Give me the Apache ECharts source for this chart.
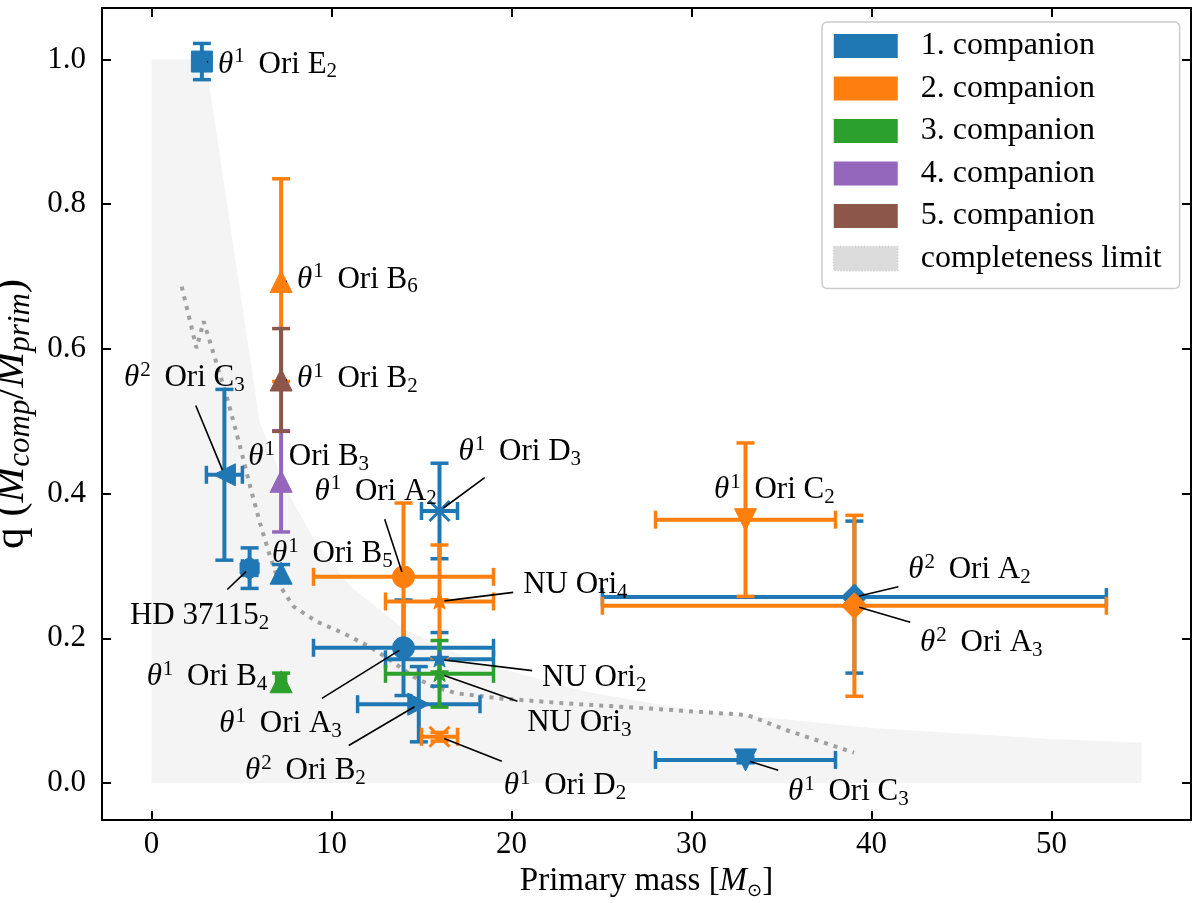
<!DOCTYPE html>
<html><head><meta charset="utf-8">
<script src="https://cdn.jsdelivr.net/npm/echarts@6/dist/echarts.min.js"></script>
<style>html,body{margin:0;padding:0;background:#fff}#c{width:1200px;height:903px}</style>
</head><body><div id="c"></div>
<script>
// ---------------- data ----------------
const labels = ['θ^1 Ori E_2','θ^1 Ori B_6','θ^1 Ori B_2','θ^1 Ori B_3','θ^1 Ori B_5','θ^1 Ori B_4','θ^2 Ori C_3','HD 37115_2','θ^1 Ori A_2','θ^1 Ori A_3','θ^1 Ori D_3','θ^1 Ori D_2','NU Ori_4','NU Ori_2','NU Ori_3','θ^2 Ori B_2','θ^1 Ori C_2','θ^1 Ori C_3','θ^2 Ori A_2','θ^2 Ori A_3'];
const companion   = [1,2,5,4,1,3,1,1,2,1,1,2,2,1,3,1,2,1,1,2];
const primaryMass = [2.8,7.2,7.2,7.2,7.2,7.2,4.05,5.45,14.0,14.0,16.0,16.0,16.0,16.0,16.0,14.85,33.0,33.0,39.05,39.05];
const massErr     = [0,0,0,0,0,0.25,1.0,0.4,5.0,5.0,1.0,1.0,3.0,3.0,3.0,3.4,5.0,5.0,14.0,14.0];
const q           = [0.997,0.693,0.557,0.417,0.290,0.140,0.426,0.297,0.285,0.187,0.376,0.064,0.251,0.171,0.151,0.109,0.364,0.032,0.257,0.245];
const qErrLow     = [0.025,0.138,0.071,0.070,0.012,0.012,0.118,0.028,0.102,0.066,0.066,0.006,0.078,0.037,0.046,0.052,0.106,0.004,0.105,0.125];
const qErrHigh    = [0.025,0.142,0.071,0.070,0.012,0.012,0.118,0.028,0.102,0.066,0.066,0.006,0.078,0.037,0.046,0.052,0.106,0.004,0.105,0.125];
const marker      = ['square','triUp','triUp','triUp','triUp','triUp','triLeft','hexagon','circle','circle','x','x','star','star','star','triRight','triDown','triDown','diamond','diamond'];
// annotation text anchors (left edge, vertical middle) in data units
const labelX = [3.70,8.08,8.08,5.38,6.69,-0.27,-1.53,-1.20,9.05,3.77,17.06,19.57,20.65,21.70,20.87,5.20,31.25,35.36,42.04,42.70];
const labelY = [0.993,0.696,0.559,0.451,0.317,0.147,0.560,0.231,0.403,0.0816,0.458,-0.0041,0.274,0.145,0.083,0.0166,0.405,-0.0124,0.2946,0.1936];

const companionNames = ['1. companion','2. companion','3. companion','4. companion','5. companion'];
// completeness region (upper boundary)
const fillMass = [0,3,6,7.5,9,11,14,18,24,30,40,50,55];
const fillQ    = [1.0,1.0,0.5,0.405,0.338,0.273,0.213,0.168,0.127,0.101,0.076,0.061,0.0557];
// dotted completeness curve
const limMass = [1.68,2.5,2.9,3.44,4.18,4.92,5.48,6.03,6.59,7.15,7.89,9.19,10.67,12.15,13.26,14.56,15.67,16.97,19.38,23.1,27.7,33.1,35.3,39.03];
const limQ    = [0.686,0.601,0.638,0.594,0.534,0.465,0.41,0.359,0.313,0.272,0.244,0.223,0.207,0.188,0.170,0.147,0.133,0.124,0.117,0.110,0.103,0.094,0.073,0.042];

const xTicks = [0,10,20,30,40,50];
const yTicks = [0,0.2,0.4,0.6,0.8,1.0];

// ---------------- styles ----------------
const colors = ['#1f77b4','#ff7f0e','#2ca02c','#9467bd','#8c564b'];
const FF = "'Liberation Serif', 'Times New Roman', serif";
const FS = 31;
const RICH = {
  n:   {fontFamily: FF, fontSize: FS, lineHeight: 36, color: '#000'},
  it:  {fontFamily: FF, fontSize: FS, fontStyle: 'italic', lineHeight: 36, color: '#000'},
  sup: {fontFamily: FF, fontSize: 21, lineHeight: 20, verticalAlign: 'top', padding: [0, 6, 0, 1], color: '#000'},
  sub: {fontFamily: FF, fontSize: 21, lineHeight: 20, verticalAlign: 'bottom', color: '#000'}
};
const XNAME_RICH = {
  n:   {fontFamily: FF, fontSize: 33, lineHeight: 38, color: '#000'},
  it:  {fontFamily: FF, fontSize: 33, fontStyle: 'italic', lineHeight: 38, color: '#000'},
  sun: {fontFamily: "'DejaVu Sans', sans-serif", fontSize: 18, lineHeight: 20, verticalAlign: 'bottom', color: '#000'}
};
const YNAME_RICH = {
  n:   {fontFamily: FF, fontSize: 43, lineHeight: 50, color: '#000'},
  it:  {fontFamily: FF, fontSize: 43, fontStyle: 'italic', lineHeight: 50, color: '#000'},
  sb:  {fontFamily: FF, fontSize: 31, fontStyle: 'italic', lineHeight: 30, verticalAlign: 'bottom', color: '#000'}
};

const mctx = document.createElement('canvas').getContext('2d');
function tokens(label) {
  const out = []; let buf = '';
  const flush = () => { if (buf) { out.push({s: 'n', t: buf}); buf = ''; } };
  for (let i = 0; i < label.length; i++) {
    const ch = label[i];
    if (ch === 'θ') { flush(); out.push({s: 'it', t: ch}); }
    else if (ch === '^') { flush(); out.push({s: 'sup', t: label[++i]}); }
    else if (ch === '_') { flush(); out.push({s: 'sub', t: label[++i]}); }
    else buf += ch;
  }
  flush();
  return out;
}
function tokWidth(tk) {
  const st = RICH[tk.s];
  mctx.font = (st.fontStyle === 'italic' ? 'italic ' : '') + st.fontSize + 'px ' + st.fontFamily;
  let w = mctx.measureText(tk.t).width;
  if (st.padding) w += st.padding[1] + st.padding[3];
  return w;
}
const richStr = labels.map(l => tokens(l).map(t => '{' + t.s + '|' + t.t + '}').join(''));
const labelW = labels.map(l => tokens(l).reduce((a, t) => a + tokWidth(t), 0));

// ---------------- renderers ----------------
function seg(a, b, color, lw) {
  return {type: 'line', shape: {x1: a[0], y1: a[1], x2: b[0], y2: b[1]}, style: {stroke: color, lineWidth: lw}};
}
function markerShape(type, cx, cy, color) {
  const st = {fill: color, stroke: color, lineWidth: 1};
  const poly = pts => ({type: 'polygon', shape: {points: pts.map(p => [cx + p[0], cy + p[1]])}, style: st});
  const R = 11;
  switch (type) {
    case 'circle': return {type: 'circle', shape: {cx: cx, cy: cy, r: R}, style: st};
    case 'square': return {type: 'rect', shape: {x: cx - 10.5, y: cy - 10.5, width: 21, height: 21}, style: st};
    case 'triUp': return poly([[0, -R], [R, R], [-R, R]]);
    case 'triDown': return poly([[0, R], [R, -R], [-R, -R]]);
    case 'triLeft': return poly([[-R, 0], [R, -R], [R, R]]);
    case 'triRight': return poly([[R, 0], [-R, -R], [-R, R]]);
    case 'diamond': return poly([[0, -13], [13, 0], [0, 13], [-13, 0]]);
    case 'hexagon': {
      const pts = [];
      for (let k = 0; k < 6; k++) { const a = Math.PI / 2 + k * Math.PI / 3; pts.push([R * Math.cos(a), -R * Math.sin(a)]); }
      return poly(pts);
    }
    case 'star': {
      const pts = [];
      for (let k = 0; k < 10; k++) { const r = k % 2 ? 3.8 : 9.5; const a = Math.PI / 2 + k * Math.PI / 5; pts.push([r * Math.cos(a), -r * Math.sin(a)]); }
      return poly(pts);
    }
    case 'x': return {type: 'group', children: [
      seg([cx - 10, cy - 10], [cx + 10, cy + 10], color, 3),
      seg([cx - 10, cy + 10], [cx + 10, cy - 10], color, 3)]};
  }
}
function renderBars(params, api) {
  const i = api.value(2);
  const m = primaryMass[i], v = q[i];
  const c = colors[companion[i] - 1];
  const ch = [];
  const cap = 9;
  if (massErr[i] > 0) {
    const a = api.coord([m - massErr[i], v]), b = api.coord([m + massErr[i], v]);
    ch.push(seg(a, b, c, 4));
    ch.push(seg([a[0], a[1] - cap], [a[0], a[1] + cap], c, 3.5));
    ch.push(seg([b[0], b[1] - cap], [b[0], b[1] + cap], c, 3.5));
  }
  if (qErrLow[i] > 0 || qErrHigh[i] > 0) {
    const a = api.coord([m, v - qErrLow[i]]), b = api.coord([m, v + qErrHigh[i]]);
    ch.push(seg(a, b, c, 4));
    ch.push(seg([a[0] - cap, a[1]], [a[0] + cap, a[1]], c, 3.5));
    ch.push(seg([b[0] - cap, b[1]], [b[0] + cap, b[1]], c, 3.5));
  }
  return {type: 'group', children: ch};
}
function renderMarker(params, api) {
  const i = api.value(2);
  const p = api.coord([primaryMass[i], q[i]]);
  return markerShape(marker[i], p[0], p[1], colors[companion[i] - 1]);
}
function renderLabel(params, api) {
  const i = api.value(4);
  const t = api.coord([api.value(0), api.value(1)]);
  const p = api.coord([api.value(2), api.value(3)]);
  const w = labelW[i];
  const cx = t[0] + w / 2, cy = t[1];
  const pad = 5, up = 18, down = 18;
  const x0 = t[0] - pad, x1 = t[0] + w + pad, y0 = cy - up - pad, y1 = cy + down + pad;
  const dx = p[0] - cx, dy = p[1] - cy;
  const len = Math.hypot(dx, dy);
  const ch = [];
  let te = Infinity;
  if (dx > 0) te = Math.min(te, (x1 - cx) / dx); else if (dx < 0) te = Math.min(te, (x0 - cx) / dx);
  if (dy > 0) te = Math.min(te, (y1 - cy) / dy); else if (dy < 0) te = Math.min(te, (y0 - cy) / dy);
  if (te < 1 && len > 0) {
    const sx = cx + dx * te + dx / len * 5, sy = cy + dy * te + dy / len * 5;
    const ex = p[0] - dx / len * 5, ey = p[1] - dy / len * 5;
    if ((ex - sx) * dx + (ey - sy) * dy > 0) ch.push(seg([sx, sy], [ex, ey], '#000', 1.6));
  }
  ch.push({type: 'text', x: t[0], y: t[1], style: {text: richStr[i], rich: RICH, fontFamily: FF, fontSize: FS, fill: '#000', align: 'left', verticalAlign: 'middle'}});
  return {type: 'group', children: ch};
}

// ---------------- option ----------------
const idxAll = labels.map((_, i) => i);
const barOrder = idxAll.slice().sort((a, b) => companion[a] - companion[b]);
const series = [];
series.push({
  name: 'completeness limit', type: 'line', z: 1, silent: true, symbol: 'none', showSymbol: false,
  data: fillMass.map((m, k) => [m, fillQ[k]]),
  lineStyle: {width: 0, opacity: 0}, areaStyle: {color: '#f4f4f4', opacity: 1}, itemStyle: {color: '#dcdcdc'}
});
series.push({
  name: 'limitCurve', type: 'line', z: 2, silent: true, symbol: 'none', showSymbol: false,
  data: limMass.map((m, k) => [m, limQ[k]]),
  lineStyle: {color: '#a0a0a0', width: 4, type: [4, 6]}
});
series.push({
  name: 'errbars', type: 'custom', z: 3, silent: true, renderItem: renderBars,
  data: barOrder.map(i => [primaryMass[i], q[i], i])
});
companionNames.forEach((nm, k) => {
  series.push({
    name: nm, type: 'custom', z: 4, silent: true, renderItem: renderMarker,
    itemStyle: {color: colors[k]}, color: colors[k],
    data: idxAll.filter(i => companion[i] === k + 1).map(i => [primaryMass[i], q[i], i])
  });
});
series.push({
  name: 'labels', type: 'custom', z: 5, silent: true, clip: false, renderItem: renderLabel,
  data: idxAll.map(i => [labelX[i], labelY[i], primaryMass[i], q[i], i])
});

const axisLineStyle = {show: true, onZero: false, lineStyle: {color: '#000', width: 2}};
const tickStyle = {inside: true, length: 9, lineStyle: {color: '#000', width: 2}};
const option = {
  animation: false,
  backgroundColor: '#fff',
  grid: {left: 102, right: 9, top: 8, bottom: 83, containLabel: false, outerBoundsMode: 'none'},
  legend: {
    left: 822, top: 22, orient: 'vertical', icon: 'rect',
    itemWidth: 64, itemHeight: 24, itemGap: 10.5,
    padding: [8, 18, 14, 11],
    backgroundColor: 'rgba(255,255,255,0.85)', borderColor: '#cccccc', borderWidth: 1.5, borderRadius: 5,
    textStyle: {fontFamily: FF, fontSize: 32, color: '#000', lineHeight: 24, padding: [0, 0, 0, 18]},
    selectedMode: false,
    data: companionNames.map(n => ({name: n})).concat([{name: 'completeness limit', itemStyle: {color: '#dcdcdc', borderColor: '#cfcfcf', borderWidth: 1.5, borderType: 'dotted'}}])
  },
  xAxis: [{
    type: 'value', min: -2.75, max: 57.75, position: 'bottom',
    axisLine: axisLineStyle, axisTick: Object.assign({customValues: xTicks}, tickStyle),
    axisLabel: {customValues: xTicks, fontFamily: FF, fontSize: FS, color: '#000', margin: 9},
    splitLine: {show: false},
    name: '{n|Primary mass [}{it|M}{sun|⊙}{n|]}', nameLocation: 'middle', nameGap: 41,
    nameTextStyle: {fontFamily: FF, fontSize: 33, color: '#000', rich: XNAME_RICH}
  }, {
    type: 'value', min: -2.75, max: 57.75, position: 'top',
    axisLine: axisLineStyle, axisTick: Object.assign({customValues: xTicks}, tickStyle),
    axisLabel: {show: false}, splitLine: {show: false}
  }],
  yAxis: [{
    type: 'value', min: -0.051, max: 1.071, position: 'left',
    axisLine: axisLineStyle, axisTick: Object.assign({customValues: yTicks}, tickStyle),
    axisLabel: {customValues: yTicks, formatter: v => v.toFixed(1), fontFamily: FF, fontSize: FS, color: '#000', margin: 16},
    splitLine: {show: false},
    name: '{n|q (}{it|M}{sb|comp}{n|/}{it|M}{sb|prim}{n|)}', nameLocation: 'middle', nameGap: 50, nameRotate: 90,
    nameTextStyle: {fontFamily: FF, fontSize: 43, color: '#000', rich: YNAME_RICH}
  }, {
    type: 'value', min: -0.051, max: 1.071, position: 'right',
    axisLine: axisLineStyle, axisTick: Object.assign({customValues: yTicks}, tickStyle),
    axisLabel: {show: false}, splitLine: {show: false}
  }],
  series: series
};
const chart = echarts.init(document.getElementById('c'));
chart.setOption(option);
</script>
</body></html>
